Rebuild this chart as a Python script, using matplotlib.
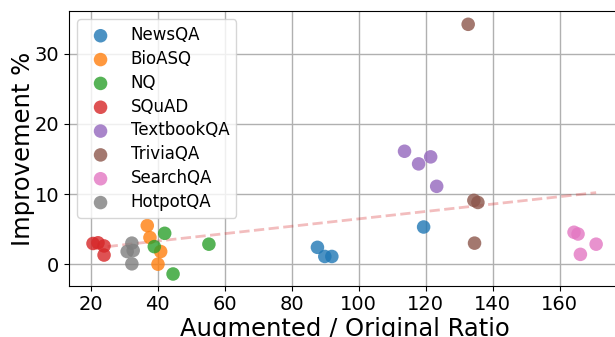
import matplotlib
matplotlib.use("Agg")
import matplotlib.pyplot as plt

datasets = ["NewsQA", "BioASQ", "NQ", "SQuAD", "TextbookQA", "TriviaQA", "SearchQA", "HotpotQA"]

# augmented / original ratio per dataset
ratio = {
    "NewsQA": [87.7, 89.9, 92.0, 119.4],
    "BioASQ": [36.9, 37.7, 40.9, 40.1],
    "NQ": [42.1, 39.0, 55.3, 44.6],
    "SQuAD": [20.7, 22.2, 24.0, 24.0],
    "TextbookQA": [113.7, 117.9, 121.5, 123.3],
    "TriviaQA": [132.7, 134.4, 135.6, 134.6],
    "SearchQA": [164.3, 165.5, 166.2, 170.9],
    "HotpotQA": [32.3, 30.9, 32.7, 32.3],
}
# improvement %
improvement = {
    "NewsQA": [2.4, 1.1, 1.1, 5.3],
    "BioASQ": [5.5, 3.8, 1.8, 0.0],
    "NQ": [4.4, 2.5, 2.85, -1.4],
    "SQuAD": [2.95, 3.05, 2.6, 1.3],
    "TextbookQA": [16.1, 14.3, 15.3, 11.1],
    "TriviaQA": [34.2, 9.1, 8.8, 3.0],
    "SearchQA": [4.55, 4.3, 1.4, 2.85],
    "HotpotQA": [3.0, 1.8, 1.95, 0.05],
}

# trend line
trend_x = [20.7, 170.9]
trend_y = [2.28, 10.2]

xticks = [20, 40, 60, 80, 100, 120, 140, 160]
yticks = [0, 10, 20, 30]

fig = plt.figure(figsize=(6.15, 3.37), dpi=100)
ax = fig.add_axes([0.112, 0.152, 0.896, 0.815])

for i, name in enumerate(datasets):
    ax.scatter(ratio[name], improvement[name], s=95, alpha=0.8,
               color="C%d" % i, label=name, edgecolors="none", zorder=3)

ax.plot(trend_x, trend_y, "--", color="tab:red", alpha=0.3, lw=2, zorder=2)

ax.set_xlim(13.5, 178)
ax.set_ylim(-3.08, 36.08)
ax.set_xticks(xticks)
ax.set_yticks(yticks)
ax.grid(True, color="#b0b0b0", lw=1)
ax.set_axisbelow(True)
ax.tick_params(labelsize=14)
ax.set_xlabel("Augmented / Original Ratio", fontsize=17.5, labelpad=2)
ax.set_ylabel("Improvement %", fontsize=17.5, labelpad=0)
ax.legend(loc="upper left", fontsize=12, labelspacing=0.35)

fig.savefig("out.png", dpi=100)
